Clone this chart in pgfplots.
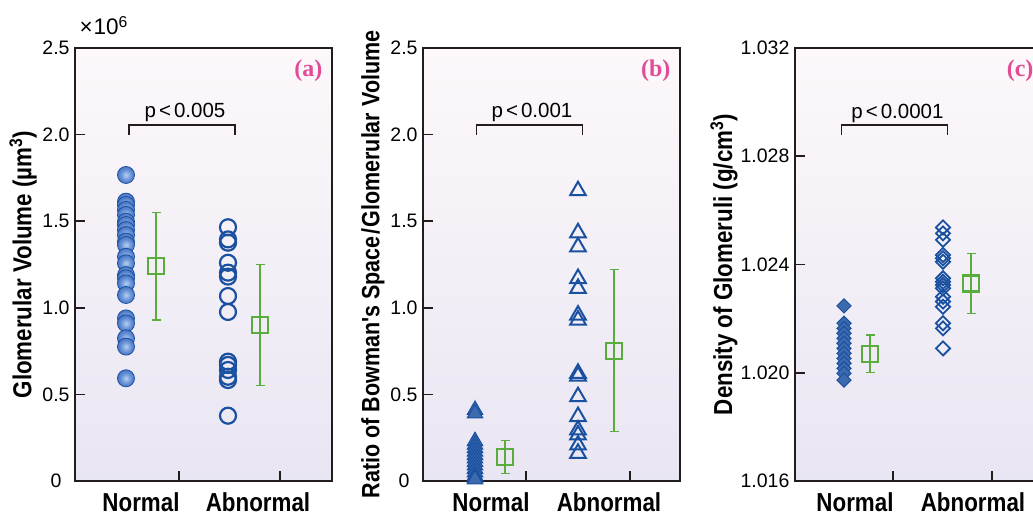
\documentclass[border=0pt]{standalone}
\usepackage{fontspec}
\setmainfont{Liberation Sans}
\newfontfamily\condsans{Liberation Sans}[FakeStretch=0.86]
\newfontfamily\panelserif{Liberation Serif}
\usepackage{pgfplots}
\pgfplotsset{compat=1.18}

\definecolor{dotblue}{RGB}{26,80,160}
\definecolor{dotc1}{RGB}{180,208,242}
\definecolor{dotc2}{RGB}{100,142,212}
\definecolor{dotc3}{RGB}{45,92,178}
\definecolor{meangreen}{RGB}{90,172,60}
\definecolor{panelpink}{RGB}{226,76,150}
\definecolor{bgtop}{RGB}{253,248,250}
\definecolor{bgbot}{RGB}{233,230,243}
\definecolor{frame}{RGB}{35,28,28}

% shaded dot for the normal group in (a)
\pgfdeclareradialshading{bluedot}{\pgfpoint{0bp}{0bp}}{%
  color(0bp)=(dotc1); color(16bp)=(dotc2); color(36bp)=(dotc3); color(50bp)=(dotblue)}
\pgfdeclareplotmark{sball}{%
  \pgfpathcircle{\pgfpointorigin}{\pgfplotmarksize}%
  \pgfshadepath{bluedot}{0}\pgfusepath{}%
  \pgfpathcircle{\pgfpointorigin}{\pgfplotmarksize}%
  \pgfusepath{stroke}}

\newcommand\labfont{\condsans\bfseries\fontsize{26}{29}\selectfont}
\newcommand\pfont{\fontsize{20.5}{23}\selectfont}

\pgfplotsset{
  panel/.style={
    scale only axis, width=257pt, height=433pt,
    anchor=south west,
    xmin=0, xmax=2.57,
    clip mode=individual,
    axis line style={frame, line width=1.6pt},
    axis background/.style={top color=bgtop, bottom color=bgbot},
    tick align=inside, major tick length=10pt,
    ytick pos=left, xtick pos=bottom,
    every tick/.style={frame, line width=1.6pt},
    xtick style={draw=none},
    extra x tick style={xtick style={draw=frame}},
    extra x tick labels={},
    tick label style={font=\fontsize{19.5}{21}\selectfont},
    xticklabel style={font=\labfont, anchor=base, yshift=-30pt},
    yticklabel style={anchor=center, xshift=-19pt},
    ylabel style={font=\labfont, anchor=center},
  },
  pts/.style={only marks, mark size=#1},
  means/.style={only marks, mark=square, mark size=8pt,
    mark options={meangreen, fill=white, line width=2.2pt},
    error bars/.cd, y dir=both, y explicit,
    error bar style={meangreen, line width=1.3pt},
    error mark options={rotate=90, meangreen, mark size=4.5pt, line width=1.3pt}},
  meanbox/.style={only marks, mark=square, mark size=8pt,
    mark options={meangreen, fill=white, line width=2.2pt}},
}

\begin{document}
\begin{tikzpicture}

% (a) glomerular volume
\begin{axis}[panel, at={(75pt,34pt)},
  ymin=0, ymax=2.5, ytick={0,0.5,1,1.5,2,2.5},
  yticklabels={0,0.5,1.0,1.5,2.0,2.5},
  xtick={0.66,1.83}, xticklabels={Normal,Abnormal},
  extra x ticks={1.04,2.05},
  ylabel={Glomerular Volume (µm\textsuperscript{3})},
  ylabel style={at={(axis description cs:-0.202,0.5)}},
]
\addplot[pts=8.5pt, mark=sball, mark options={draw=dotblue, line width=0.8pt}] coordinates {
  (0.51,1.767) (0.51,1.613) (0.51,1.594) (0.51,1.565) (0.51,1.536)
  (0.51,1.497) (0.51,1.478) (0.51,1.449) (0.51,1.420) (0.51,1.382)
  (0.51,1.363) (0.51,1.295) (0.51,1.257) (0.51,1.189) (0.51,1.170)
  (0.51,1.141) (0.51,1.074) (0.51,0.939) (0.51,0.910) (0.51,0.824)
  (0.51,0.776) (0.51,0.593)};
\addplot[pts=8pt, mark=o, mark options={dotblue, line width=2.2pt}] coordinates {
  (1.53,1.465) (1.53,1.395) (1.53,1.376) (1.53,1.260) (1.53,1.203)
  (1.53,1.180) (1.53,1.068) (1.53,0.976) (1.53,0.689) (1.53,0.670)
  (1.53,0.641) (1.53,0.602) (1.53,0.583) (1.53,0.377)};
\addplot[means] coordinates {(0.81,1.24) +- (0,0.31) (1.85,0.90) +- (0,0.35)};
\addplot[meanbox] coordinates {(0.81,1.24) (1.85,0.90)};
\draw[frame, line width=1.5pt] (axis cs:0.54,2.0) |- (axis cs:1.60,2.055) -- (axis cs:1.60,2.0);
\node[anchor=base, font=\pfont] at (axis cs:1.10,2.096) {p\kern3pt<\kern3pt0.005};
\node[anchor=base west, font=\fontsize{22.5}{24}\selectfont] at ([xshift=1pt,yshift=13pt]rel axis cs:0,1) {×\kern1pt10\textsuperscript{6}};
\node[anchor=east, text=panelpink, font=\panelserif\bfseries\fontsize{24}{26}\selectfont] at ([xshift=-6pt,yshift=-23pt]rel axis cs:1,1) {(a)};
\end{axis}

% (b) ratio of Bowman's space
\begin{axis}[panel, at={(423pt,34pt)},
  ymin=0, ymax=2.5, ytick={0,0.5,1,1.5,2,2.5},
  yticklabels={0,0.5,1.0,1.5,2.0,2.5},
  xtick={0.68,1.86}, xticklabels={Normal,Abnormal},
  extra x ticks={1.03,2.07},
  ylabel={Ratio of Bowman's Space\kern1.5pt/\kern1.5pt Glomerular Volume},
  ylabel style={at={(axis description cs:-0.195,0.5)}, font=\condsans\bfseries\fontsize{25}{28}\selectfont},
]
\addplot[pts=9pt, mark=triangle*, mark options={draw=dotblue, fill=dotblue!85!white, line width=1pt}] coordinates {
  (0.52,0.41) (0.52,0.39) (0.52,0.23) (0.52,0.21) (0.52,0.19)
  (0.52,0.17) (0.52,0.15) (0.52,0.13) (0.52,0.11) (0.52,0.09)
  (0.52,0.07) (0.52,0.05) (0.52,0.03) (0.52,0.02) (0.52,0.01)};
\addplot[pts=9pt, mark=triangle, mark options={dotblue, line width=2pt}] coordinates {
  (1.55,1.676) (1.55,1.433) (1.55,1.352) (1.55,1.169) (1.55,1.112)
  (1.55,0.958) (1.55,0.929) (1.55,0.622) (1.55,0.606) (1.55,0.487)
  (1.55,0.372) (1.55,0.295) (1.55,0.266) (1.55,0.208) (1.55,0.160)};
\addplot[means] coordinates {(0.82,0.14) +- (0,0.095) (1.91,0.752) +- (0,0.468)};
\addplot[meanbox] coordinates {(0.82,0.14) (1.91,0.752)};
\draw[frame, line width=1.5pt] (axis cs:0.537,2.0) |- (axis cs:1.593,2.055) -- (axis cs:1.593,2.0);
\node[anchor=base, font=\pfont] at (axis cs:1.09,2.096) {p\kern3pt<\kern3pt0.001};
\node[anchor=east, text=panelpink, font=\panelserif\bfseries\fontsize{24}{26}\selectfont] at ([xshift=-6pt,yshift=-23pt]rel axis cs:1,1) {(b)};
\end{axis}

% (c) density of glomeruli
\begin{axis}[panel, at={(795pt,34pt)},
  ymin=1.016, ymax=1.032, ytick={1.016,1.020,1.024,1.028,1.032},
  yticklabels={1.016,1.020,1.024,1.028,1.032},
  yticklabel style={xshift=-11pt},
  xtick={0.60,1.78}, xticklabels={Normal,Abnormal},
  extra x ticks={0.98,1.97},
  ylabel={Density of Glomeruli (g/cm\textsuperscript{3})},
  ylabel style={at={(axis description cs:-0.276,0.5)}},
]
\addplot[pts=5pt, mark=square*, mark options={rotate=45, draw=dotblue, fill=dotblue!85!white, line width=1pt}] coordinates {
  (0.49,1.02247) (0.49,1.02183) (0.49,1.02164) (0.49,1.02146) (0.49,1.02127)
  (0.49,1.02109) (0.49,1.02090) (0.49,1.02072) (0.49,1.02053) (0.49,1.02035)
  (0.49,1.02016) (0.49,1.01998) (0.49,1.01973)};
\addplot[pts=5pt, mark=square, mark options={rotate=45, dotblue, line width=1.8pt}] coordinates {
  (1.48,1.02537) (1.48,1.02515) (1.48,1.02491) (1.48,1.02435) (1.48,1.02423)
  (1.48,1.02410) (1.48,1.02349) (1.48,1.02336) (1.48,1.02324) (1.48,1.02312)
  (1.48,1.02281) (1.48,1.02263) (1.48,1.02244) (1.48,1.02183) (1.48,1.02164)
  (1.48,1.02090)};
\addplot[means] coordinates {(0.75,1.0207) +- (0,0.0007) (1.76,1.0233) +- (0,0.0011)};
\addplot[meanbox] coordinates {(0.75,1.0207) (1.76,1.0233)};
\draw[frame, line width=1.5pt] (axis cs:0.467,1.02879) |- (axis cs:1.527,1.02915) -- (axis cs:1.527,1.02879);
\node[anchor=base, font=\pfont] at (axis cs:1.025,1.0294) {p\kern3pt<\kern3pt0.0001};
\node[anchor=east, text=panelpink, font=\panelserif\bfseries\fontsize{24}{26}\selectfont] at ([xshift=-15pt,yshift=-23pt]rel axis cs:1,1) {(c)};
\end{axis}

\pgfresetboundingbox
\path[use as bounding box] (0pt,0pt) rectangle (1033pt,515pt);
\end{tikzpicture}
\end{document}
